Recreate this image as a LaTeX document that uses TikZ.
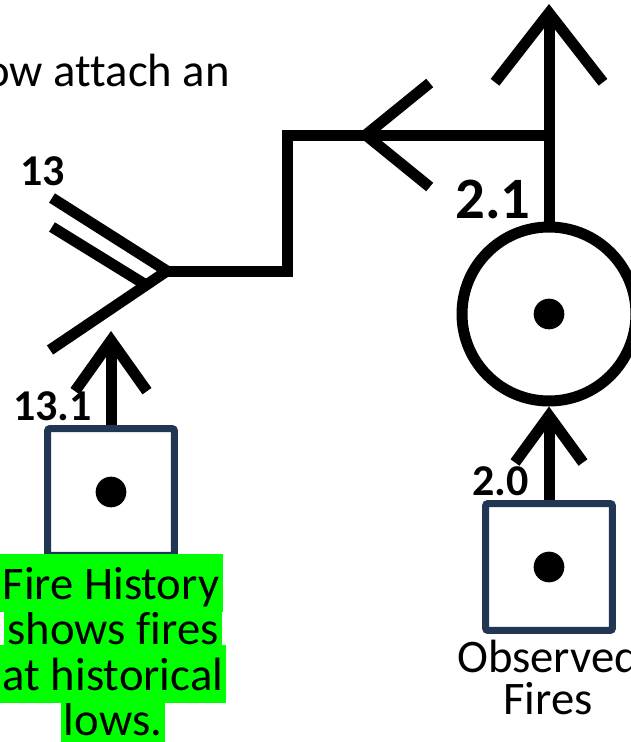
\documentclass[tikz,border=0pt]{standalone}
\usepackage{fontspec}
\setmainfont{Carlito}[Ligatures=NoCommon]
\usetikzlibrary{arrows.meta, positioning}
\definecolor{boxblue}{HTML}{203652}
\definecolor{hilite}{HTML}{00FF00}

\begin{document}
\begin{tikzpicture}[x=0.75pt, y=-0.75pt,
    wire/.style={line width=8.25pt, line join=miter},
    flow/.style 2 args={wire, -{Straight Barb[sharp, length=#1, width=#2]}},
    srcbox/.style={draw=boxblue, line width=5.25pt, fill=white, rounded corners=1.5pt,
                   minimum size=95pt, inner sep=0pt},
    procnode/.style={circle, draw, line width=8.25pt, minimum size=130.5pt, inner sep=0pt},
    dot/.style={circle, fill, minimum size=23pt, inner sep=0pt},
    num/.style={inner sep=0pt, anchor=base west, font=\bfseries\fontsize{#1}{#1}\selectfont},
    txt/.style={inner sep=0pt, font=\fontsize{35}{31.5}\selectfont},
    hl/.style={txt, fill=hilite, inner xsep=2.5pt, text height=33.75pt, text depth=9.75pt, anchor=base}]
  \useasboundingbox (0,0) rectangle (631,742);
  \clip (0,0) rectangle (631,742);

  % Sources and process
  \node[srcbox] (hist) at (111,492) {};
  \node[dot] (histdot) at (hist) {};
  \node[srcbox] (obs) at (549,567) {};
  \node[dot] (obsdot) at (obs) {};
  \node[procnode] (proc) at (549,314) {};
  \node[dot] (procdot) at (proc) {};

  % Bends and free ends
  \coordinate (top) at (549,4);
  \coordinate (tee) at (549,135);
  \coordinate (mid) at (357,135);
  \coordinate (c1) at (287,135);
  \coordinate (c2) at (287,271);
  \coordinate (fork) at (167,271);
  \coordinate (arm1) at (52,198);
  \coordinate (arm2) at (52,227);
  \coordinate (arm2end) at (146,285);
  \coordinate (arm3) at (50,350);
  \coordinate (in13) at (111,331);

  % Connections
  \draw[flow={52pt}{81pt}] (proc) -- (top);
  \draw[flow={48pt}{78pt}] (tee) -- (mid);
  \draw[wire] (tee) -- (c1) -- (c2) -- (fork);
  \draw[wire] (arm1) -- (fork) -- (arm3);
  \draw[wire] (arm2) -- (arm2end);
  \draw[flow={35pt}{51pt}] (obs) -- (proc);
  \draw[flow={38pt}{54pt}] (hist) -- (in13);

  % Numbers
  \node[num=33] (n13) at (20,185) {13};
  \node[num=33] (n131) at (13,420) {13.1};
  \node[num=44] (n21) at (455,218) {2.1};
  \node[num=33] (n20) at (472,495) {2.0};

  % Texts
  \node[txt, anchor=base east] (intro) at (230,86) {ow attach an};
  \node[hl] (hist4) at (113,735) {lows.};
  \node[hl] (hist3) at (113,690) {at historical};
  \node[hl] (hist2) at (113,644) {shows fires};
  \node[hl] (hist1) at (111,599) {Fire History};
  \node[txt, align=center, anchor=north] (obslabel) at (548,640) {Observed\\Fires};
\end{tikzpicture}
\end{document}
